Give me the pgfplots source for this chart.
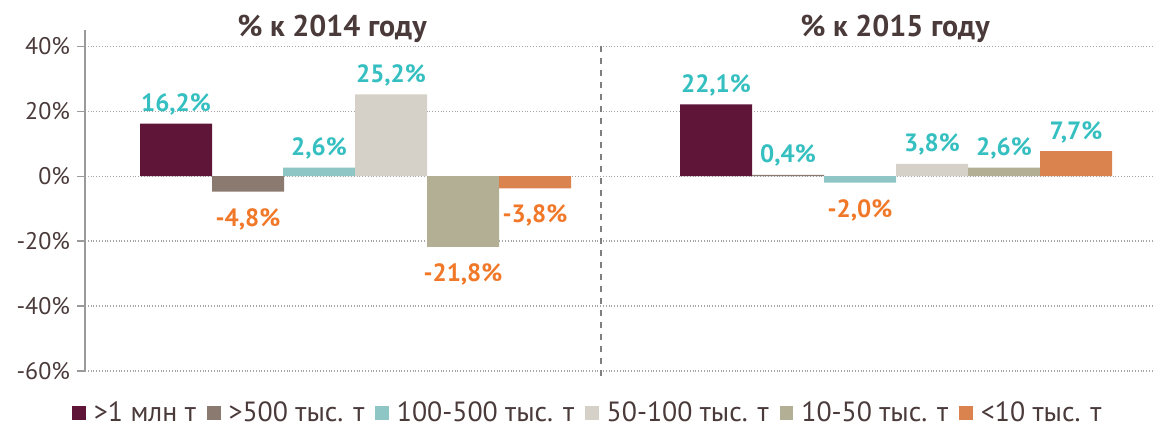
\documentclass[border=0pt]{standalone}
\usepackage{fontspec}
\setmainfont{PT Sans}
\usepackage{pgfplots}
\pgfplotsset{compat=1.18}
\usetikzlibrary{calc}
\definecolor{cA}{HTML}{5E1538}
\definecolor{cB}{HTML}{8A7A70}
\definecolor{cC}{HTML}{8EC5C5}
\definecolor{cD}{HTML}{D5D0C8}
\definecolor{cE}{HTML}{B3AF95}
\definecolor{cF}{HTML}{DB834E}
\definecolor{posc}{HTML}{35BFC0}
\definecolor{negc}{HTML}{F07828}
\definecolor{txt}{HTML}{4A3A3A}
\definecolor{gridc}{HTML}{A6A6A6}
\definecolor{axisc}{HTML}{9A9A9A}
\definecolor{sepc}{HTML}{7F7F7F}

\begin{document}
\begin{tikzpicture}
\begin{axis}[
 name=a, scale only axis, width=535pt, height=170.5pt,
 xmin=85, xmax=1155, ymin=-60, ymax=45,
 axis x line=none, axis y line*=left,
 y axis line style={draw=axisc,line width=0.6pt},
 ytick={-60,-40,-20,0,20,40},
 tick align=outside, major tick length=4pt,
 tick style={draw=axisc,line width=0.6pt},
 ymajorgrids, grid style={densely dotted,draw=gridc,line width=0.6pt},
 /pgf/number format/assume math mode=true,
 yticklabel={\pgfmathprintnumber{\tick}\%},
 yticklabel style={font=\fontsize{12}{14}\selectfont,text=txt},
 clip=false,
 nodes near coords={\pgfmathfloatifflags{\pgfplotspointmeta}{2}{\color{negc}\rule{0pt}{13pt}}{\color{posc}}%
   \pgfmathprintnumber[fixed,fixed zerofill,precision=1,use comma]{\pgfplotspointmeta}\%},
 every node near coord/.append style={font=\bfseries\fontsize{12.5}{14}\selectfont,inner sep=4pt},
 legend columns=6,
 legend style={draw=none,fill=none,at={(0.47,-0.124)},anchor=center,inner sep=0pt,
   font=\fontsize{13.9}{15}\selectfont,text=txt,
   nodes={inner sep=1pt},
   /tikz/every odd column/.style={column sep=3pt},
   /tikz/every even column/.style={column sep=4.5pt}},
 legend image code/.code={\path[#1,draw=none] (0pt,-3.4pt) rectangle (6.8pt,3.4pt);},
]
\addplot[ybar,bar width=72,draw=none,fill=cA] coordinates {(176,16.2) (716,22.1)};
\addplot[ybar,bar width=72,draw=none,fill=cB] coordinates {(248,-4.8) (788,0.4)};
\addplot[ybar,bar width=72,draw=none,fill=cC] coordinates {(319,2.6) (860,-2.0)};
\addplot[ybar,bar width=72,draw=none,fill=cD] coordinates {(391,25.2) (932,3.8)};
\addplot[ybar,bar width=72,draw=none,fill=cE] coordinates {(463,-21.8) (1004,2.6)};
\addplot[ybar,bar width=72,draw=none,fill=cF] coordinates {(535,-3.8) (1076,7.7)};
\legend{>1 млн т,>500 тыс. т,100-500 тыс. т,50-100 тыс. т,10-50 тыс. т,<10 тыс. т}
\draw[dashed,draw=sepc,line width=0.7pt] (axis cs:601,40) -- (axis cs:601,-61.5);
\node[font=\bfseries\fontsize{15}{17}\selectfont,text=txt] at (axis cs:332,45.5) {\% к 2014 году};
\node[font=\bfseries\fontsize{15}{17}\selectfont,text=txt] at (axis cs:895,45.5) {\% к 2015 году};
\end{axis}
\pgfresetboundingbox
\path ($(a.south west)+(-42.5pt,-29.5pt)$) rectangle ($(a.south west)+(535pt,185.5pt)$);
\end{tikzpicture}
\end{document}
